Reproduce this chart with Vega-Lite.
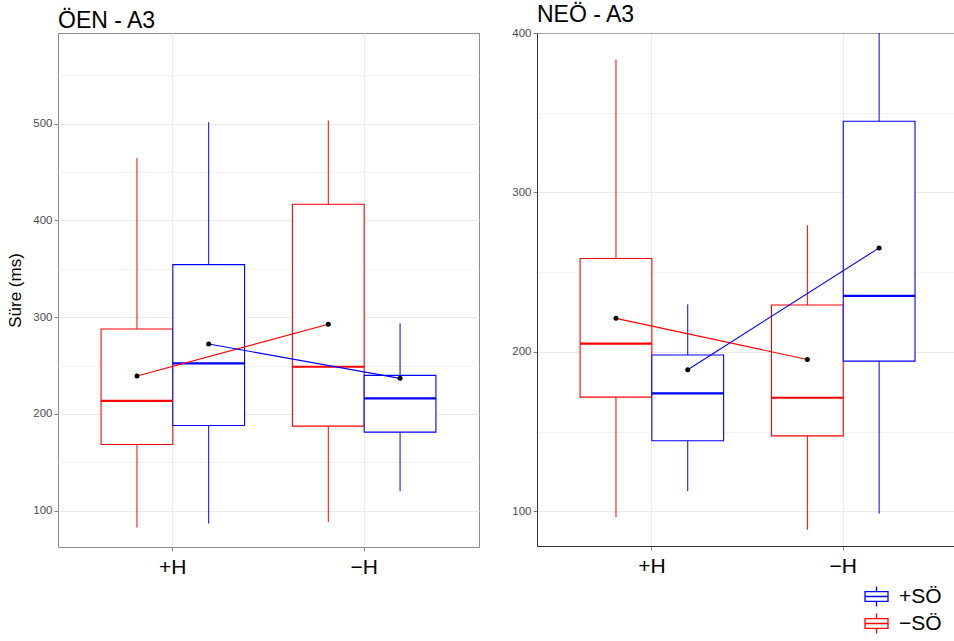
{
  "$schema": "https://vega.github.io/schema/vega-lite/v6.json",
  "padding": {"left": 6, "top": 4, "right": 0, "bottom": 0},
  "background": "white",
  "spacing": 31,
  "datasets": {
    "stats": [
      {"panel": "L", "H": "+H", "SO": "−SÖ", "lower": 82.4, "q1": 168.3, "median": 213.5, "q3": 287.7, "upper": 464.5, "mean": 239.1},
      {"panel": "L", "H": "+H", "SO": "+SÖ", "lower": 86.5, "q1": 188.0, "median": 252.2, "q3": 354.3, "upper": 501.7, "mean": 272.2},
      {"panel": "L", "H": "−H", "SO": "−SÖ", "lower": 88.2, "q1": 187.3, "median": 248.7, "q3": 416.8, "upper": 503.4, "mean": 292.6},
      {"panel": "L", "H": "−H", "SO": "+SÖ", "lower": 120.0, "q1": 181.1, "median": 216.0, "q3": 239.8, "upper": 293.6, "mean": 236.7},
      {"panel": "R", "H": "+H", "SO": "−SÖ", "lower": 96.4, "q1": 171.6, "median": 205.1, "q3": 258.5, "upper": 383.3, "mean": 221.0},
      {"panel": "R", "H": "+H", "SO": "+SÖ", "lower": 112.6, "q1": 144.2, "median": 173.9, "q3": 198.0, "upper": 229.8, "mean": 188.8},
      {"panel": "R", "H": "−H", "SO": "−SÖ", "lower": 88.4, "q1": 147.3, "median": 171.2, "q3": 229.4, "upper": 279.4, "mean": 195.2},
      {"panel": "R", "H": "−H", "SO": "+SÖ", "lower": 98.5, "q1": 194.2, "median": 235.1, "q3": 344.6, "upper": 430.0, "mean": 265.2}
    ]
  },
  "data": {"name": "stats"},
  "config": {
    "font": "Liberation Sans",
    "view": {"stroke": null},
    "axis": {"labelFont": "Liberation Sans", "titleFont": "Liberation Sans"},
    "title": {"font": "Liberation Sans"}
  },
  "resolve": {"scale": {"x": "independent", "y": "independent", "xOffset": "independent"}},
  "hconcat": [
    {
      "width": 421,
      "height": 514,
      "view": {"stroke": "#8C8C8C", "strokeWidth": 1},
      "title": {"text": "ÖEN - A3", "anchor": "start", "frame": "group", "fontSize": 23, "fontWeight": "normal", "color": "black", "offset": 0},
      "transform": [{"filter": "datum.panel === 'L'"}],
      "encoding": {
        "x": {
          "field": "H", "type": "nominal",
          "scale": {"domain": ["+H", "−H"], "paddingInner": 0.25, "paddingOuter": 0.225},
          "axis": {"title": null, "labelAngle": 0, "labelFontSize": 21, "labelColor": "black", "tickColor": "#7F7F7F", "tickSize": 4, "labelPadding": 5, "grid": true, "gridColor": "#EBEBEB", "gridWidth": 1.1, "domain": false, "bandPosition": 0.5}
        },
        "xOffset": {"field": "SO", "type": "nominal", "scale": {"domain": ["−SÖ", "+SÖ"], "paddingInner": 0, "paddingOuter": 0}}
      },
      "layer": [
        {
          "mark": {"type": "rule", "strokeWidth": 1, "clip": true},
          "encoding": {
            "y": {
              "field": "lower", "type": "quantitative", "title": "Süre (ms)",
              "scale": {"domain": [62.3, 593.9], "nice": false, "zero": false},
              "axis": {
                "values": [100, 150, 200, 250, 300, 350, 400, 450, 500, 550],
                "labelExpr": "datum.value % 100 === 0 ? datum.label : ''",
                "tickOpacity": {"condition": {"test": "datum.value % 100 === 0", "value": 1}, "value": 0},
                "gridWidth": {"condition": {"test": "datum.value % 100 === 0", "value": 1.1}, "value": 0.6},
                "gridColor": "#EBEBEB", "grid": true, "domain": false,
                "tickColor": "#7F7F7F", "tickSize": 4, "labelPadding": 2,
                "labelFontSize": 11.5, "labelColor": "#4D4D4D",
                "titleFontSize": 17, "titleFontWeight": "normal", "titlePadding": 8, "titleColor": "black"
              }
            },
            "y2": {"field": "upper"},
            "stroke": {
              "field": "SO", "type": "nominal",
              "scale": {"domain": ["+SÖ", "−SÖ"], "range": ["#0000FF", "#FF0000"]},
              "legend": {
                "orient": "none", "legendX": 806, "legendY": 551, "title": null, "padding": 0,
                "symbolType": "M-1,-0.43H1V0.43H-1Z M-1,0H1 M0,-0.43V-0.87 M0,0.43V0.87",
                "symbolSize": 529, "symbolStrokeWidth": 1.3, "symbolFillColor": "white",
                "labelFontSize": 21, "labelFont": "Liberation Sans", "labelColor": "black",
                "rowPadding": 0, "labelOffset": 10
              }
            }
          }
        },
        {
          "mark": {"type": "bar", "fill": "white", "strokeWidth": 1.1},
          "encoding": {
            "y": {"field": "q1", "type": "quantitative", "title": "Süre (ms)"},
            "y2": {"field": "q3"},
            "stroke": {"field": "SO", "type": "nominal"}
          }
        },
        {
          "mark": {"type": "bar", "fill": "white", "fillOpacity": 0, "strokeWidth": 2.2},
          "encoding": {
            "y": {"field": "median", "type": "quantitative", "title": "Süre (ms)"},
            "y2": {"field": "median"},
            "stroke": {"field": "SO", "type": "nominal"}
          }
        },
        {
          "mark": {"type": "line", "strokeWidth": 1.1},
          "encoding": {
            "y": {"field": "mean", "type": "quantitative", "title": "Süre (ms)"},
            "stroke": {"field": "SO", "type": "nominal"},
            "detail": {"field": "SO"}
          }
        },
        {
          "mark": {"type": "point", "filled": true, "color": "black", "size": 25, "opacity": 1},
          "encoding": {
            "y": {"field": "mean", "type": "quantitative", "title": "Süre (ms)"}
          }
        }
      ]
    },
    {
      "width": 417,
      "height": 513,
      "view": {"stroke": null},
      "title": {"text": "NEÖ - A3", "anchor": "start", "frame": "group", "fontSize": 23, "fontWeight": "normal", "color": "black", "offset": 0},
      "transform": [{"filter": "datum.panel === 'R'"}],
      "encoding": {
        "x": {
          "field": "H", "type": "nominal",
          "scale": {"domain": ["+H", "−H"], "paddingInner": 0.25, "paddingOuter": 0.2144, "align": 0.525},
          "axis": {"title": null, "labelAngle": 0, "labelFontSize": 21, "labelColor": "black", "tickColor": "#7F7F7F", "tickSize": 4, "labelPadding": 5, "grid": true, "gridColor": "#EBEBEB", "gridWidth": 1.1, "domain": true, "domainColor": "#333333", "domainWidth": 1, "bandPosition": 0.5}
        },
        "xOffset": {"field": "SO", "type": "nominal", "scale": {"domain": ["−SÖ", "+SÖ"], "paddingInner": 0, "paddingOuter": 0}}
      },
      "layer": [
        {
          "mark": {"type": "rule", "strokeWidth": 1, "clip": true},
          "encoding": {
            "y": {
              "field": "lower", "type": "quantitative", "title": null,
              "scale": {"domain": [78.2, 400], "nice": false, "zero": false},
              "axis": {
                "values": [100, 150, 200, 250, 300, 350, 400],
                "labelExpr": "datum.value % 100 === 0 ? datum.label : ''",
                "tickOpacity": {"condition": {"test": "datum.value % 100 === 0", "value": 1}, "value": 0},
                "gridWidth": {"condition": {"test": "datum.value % 100 === 0", "value": 1.1}, "value": 0.6},
                "gridColor": {"condition": {"test": "datum.value === 400", "value": "#A6A6A6"}, "value": "#EBEBEB"},
                "grid": true, "domain": true, "domainColor": "#333333", "domainWidth": 1,
                "tickColor": "#7F7F7F", "tickSize": 4, "labelPadding": 2,
                "labelFontSize": 11.5, "labelColor": "#4D4D4D"
              }
            },
            "y2": {"field": "upper"},
            "stroke": {"field": "SO", "type": "nominal"}
          }
        },
        {
          "mark": {"type": "bar", "fill": "white", "strokeWidth": 1.1},
          "encoding": {
            "y": {"field": "q1", "type": "quantitative", "title": null},
            "y2": {"field": "q3"},
            "stroke": {"field": "SO", "type": "nominal"}
          }
        },
        {
          "mark": {"type": "bar", "fill": "white", "fillOpacity": 0, "strokeWidth": 2.2},
          "encoding": {
            "y": {"field": "median", "type": "quantitative", "title": null},
            "y2": {"field": "median"},
            "stroke": {"field": "SO", "type": "nominal"}
          }
        },
        {
          "mark": {"type": "line", "strokeWidth": 1.1},
          "encoding": {
            "y": {"field": "mean", "type": "quantitative", "title": null},
            "stroke": {"field": "SO", "type": "nominal"},
            "detail": {"field": "SO"}
          }
        },
        {
          "mark": {"type": "point", "filled": true, "color": "black", "size": 25, "opacity": 1},
          "encoding": {
            "y": {"field": "mean", "type": "quantitative", "title": null}
          }
        }
      ]
    }
  ]
}
